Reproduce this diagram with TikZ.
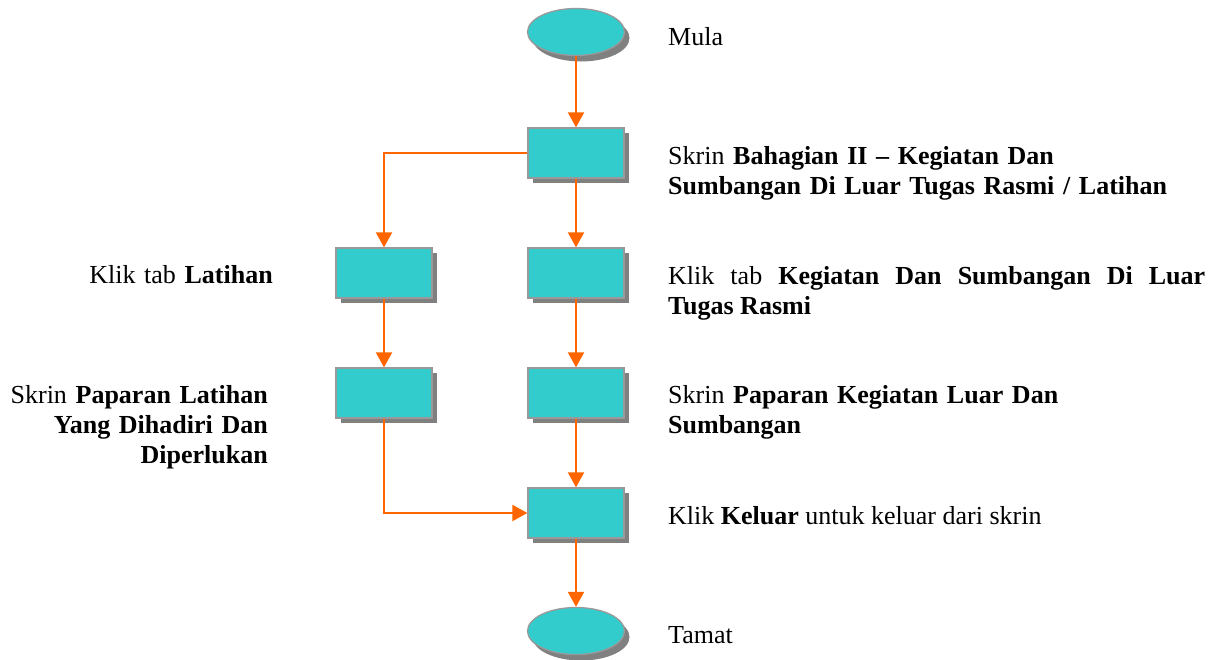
\documentclass[tikz,border=0pt]{standalone}
\usepackage{fontspec}
\setmainfont{Liberation Serif}
\usetikzlibrary{shapes.geometric,shadows,arrows.meta}
\definecolor{tealfill}{HTML}{33CCCC}
\definecolor{edgegray}{HTML}{999999}
\definecolor{shgray}{HTML}{808080}
\definecolor{arrorange}{HTML}{FF6600}
\tikzset{
  flowbox/.style={rectangle, draw=edgegray, line width=1.3pt, fill=tealfill,
    minimum width=96pt, minimum height=50pt, inner sep=0pt,
    general shadow={fill=shgray, shadow xshift=5pt, shadow yshift=-5pt}},
  terminal/.style={ellipse, draw=edgegray, line width=1.3pt, fill=tealfill,
    minimum width=97pt, minimum height=47pt, inner sep=0pt,
    general shadow={fill=shgray, shadow xshift=5pt, shadow yshift=-6pt}},
  flow/.style={draw=arrorange, line width=2pt, -{Triangle[width=16pt,length=15pt]}},
  lbl/.style={font=\fontsize{26}{30}\selectfont, inner sep=0pt},
}
\begin{document}
\begin{tikzpicture}[x=1pt,y=-1pt]
\useasboundingbox (0,0) rectangle (1218,659);
% shapes
\node[terminal] (start) at (576,32) {};
\node[flowbox] (r1) at (576,153) {};
\node[flowbox] (r2) at (576,273) {};
\node[flowbox] (r3) at (576,393) {};
\node[flowbox] (r4) at (576,513) {};
\node[flowbox] (l1) at (384,273) {};
\node[flowbox] (l2) at (384,393) {};
\node[terminal] (end) at (576,631) {};
% connectors
\draw[flow] (start) -- (r1);
\draw[flow] (r1) -- (r2);
\draw[flow] (r2) -- (r3);
\draw[flow] (r3) -- (r4);
\draw[flow] (r4) -- (end);
\draw[flow] (r1.west) -| (l1.north);
\draw[flow] (l1) -- (l2);
\draw[flow] (l2.south) |- (r4.west);
% labels
\node[lbl, anchor=base west] (tmula) at (668,45) {Mula};
\node[lbl, anchor=base west, text width=540pt, align=left] (tr1) at (668,164)
  {Skrin \textbf{Bahagian II – Kegiatan Dan}\\\textbf{Sumbangan Di Luar Tugas Rasmi / Latihan}};
\node[lbl, anchor=base west, text width=537pt, align=justify] (tr2) at (668,284)
  {Klik tab \textbf{Kegiatan Dan Sumbangan Di Luar}\linebreak\textbf{Tugas Rasmi}};
\node[lbl, anchor=base west, text width=540pt, align=left] (tr3) at (668,403)
  {Skrin \textbf{Paparan Kegiatan Luar Dan}\\\textbf{Sumbangan}};
\node[lbl, anchor=base west] (tr4) at (668,524)
  {Klik \textbf{Keluar} untuk keluar dari skrin};
\node[lbl, anchor=base west] (tend) at (668,643) {Tamat};
\node[lbl, anchor=base east, text width=270pt, align=right] (tl1) at (273,283)
  {Klik tab \textbf{Latihan}};
\node[lbl, anchor=base east, text width=268pt, align=right] (tl2) at (268,403)
  {Skrin \textbf{Paparan Latihan}\\\textbf{Yang Dihadiri Dan}\\\textbf{Diperlukan}};
\end{tikzpicture}
\end{document}
